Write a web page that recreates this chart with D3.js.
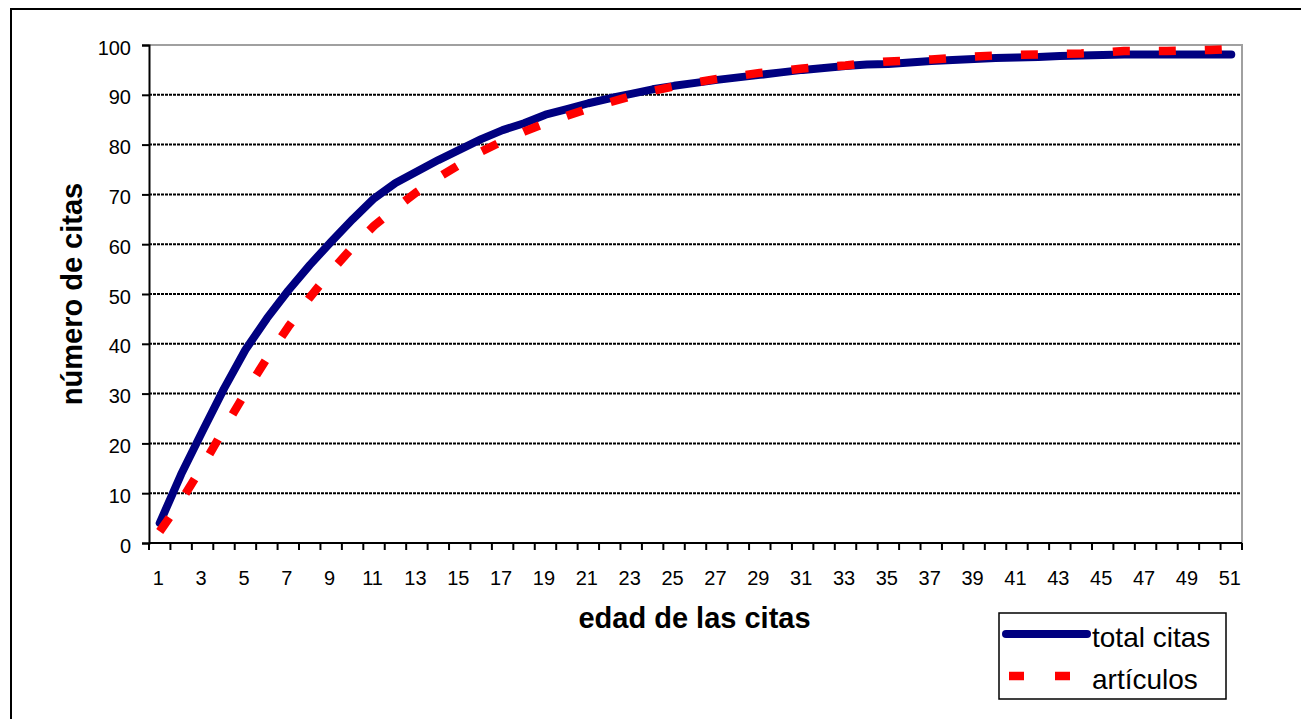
<!DOCTYPE html>
<html>
<head>
<meta charset="utf-8">
<script src="https://cdn.jsdelivr.net/npm/d3@7"></script>
<style>
  html, body { margin: 0; padding: 0; background: #fff; overflow: hidden; }
  svg { display: block; font-family: Arial, "Liberation Sans", sans-serif; }
</style>
</head>
<body>
<svg width="1301" height="719"></svg>
<script>
// edades (categorías del eje x)
const edades = [1, 2, 3, 4, 5, 6, 7, 8, 9, 10, 11, 12, 13, 14, 15, 16, 17, 18, 19, 20,
    21, 22, 23, 24, 25, 26, 27, 28, 29, 30, 31, 32, 33, 34, 35, 36, 37, 38, 39, 40,
    41, 42, 43, 44, 45, 46, 47, 48, 49, 50, 51];

const etiquetasX = [1, 3, 5, 7, 9, 11, 13, 15, 17, 19, 21, 23, 25, 27, 29, 31, 33, 35,
    37, 39, 41, 43, 45, 47, 49, 51];

const ticksY = [0, 10, 20, 30, 40, 50, 60, 70, 80, 90, 100];

// porcentaje acumulado
const totalCitas = [4.0, 13.8, 22.5, 31.0, 38.8, 45.1, 50.7, 55.8, 60.5, 65.0,
    69.2, 72.3, 74.6, 76.9, 79.0, 81.1, 82.9, 84.3, 86.0, 87.1,
    88.3, 89.3, 90.2, 91.1, 91.8, 92.4, 93.0, 93.5, 94.0, 94.5,
    95.0, 95.4, 95.8, 96.1, 96.2, 96.5, 96.8, 97.0, 97.2, 97.4,
    97.5, 97.6, 97.8, 97.9, 98.0, 98.1, 98.1, 98.1, 98.1, 98.1, 98.1];

const articulos = [2.3, 8.5, 15.4, 22.9, 30.2, 37.1, 43.4, 49.3, 54.6, 59.4,
    63.7, 67.2, 70.5, 73.4, 76.0, 78.6, 80.7, 82.6, 84.3, 85.8,
    87.2, 88.5, 89.7, 90.8, 91.7, 92.5, 93.2, 93.8, 94.4, 94.8,
    95.3, 95.6, 95.9, 96.4, 96.7, 96.9, 97.1, 97.4, 97.7, 97.9,
    98.0, 98.1, 98.2, 98.3, 98.5, 98.8, 98.8, 98.8, 98.9, 99.0, 99.2];

const series = [
    { nombre: "total citas", valores: totalCitas, color: "#000080", dash: null, cap: "round", ancho: 8 },
    { nombre: "artículos", valores: articulos, color: "#ff0000", dash: "17,29", cap: "butt", ancho: 8.5 }
];

const svg = d3.select("svg");

// marco exterior del gráfico
svg.append("rect")
    .attr("x", 11).attr("y", 9)
    .attr("width", 1400).attr("height", 800)
    .attr("fill", "#fff")
    .attr("stroke", "#000")
    .attr("stroke-width", 2);

const plot = { left: 149, top: 45, right: 1242, bottom: 543 };

const x = d3.scaleBand()
    .domain(edades)
    .range([plot.left, plot.right])
    .padding(0);

const y = d3.scaleLinear()
    .domain([0, 100])
    .range([plot.bottom, plot.top]);

// líneas de cuadrícula
svg.append("g")
    .selectAll("line")
    .data(ticksY.filter(t => t > 0 && t < 100))
    .join("line")
    .attr("x1", plot.left).attr("x2", plot.right)
    .attr("y1", d => y(d)).attr("y2", d => y(d))
    .attr("stroke", "#000")
    .attr("stroke-width", 2)
    .attr("stroke-dasharray", "3,1");

// borde del área de trazado (gris arriba y a la derecha)
svg.append("path")
    .attr("d", `M${plot.left},${plot.top}H${plot.right}V${plot.bottom}`)
    .attr("fill", "none")
    .attr("stroke", "#a0a0a0")
    .attr("stroke-width", 2);

// eje y
const ejeY = svg.append("g")
    .attr("transform", `translate(${plot.left},0)`)
    .call(d3.axisLeft(y).tickValues(ticksY).tickSize(7).tickPadding(11));

ejeY.select(".domain").attr("stroke", "#000").attr("stroke-width", 2);
ejeY.selectAll(".tick line").attr("stroke", "#000").attr("stroke-width", 2);
ejeY.selectAll(".tick text")
    .attr("font-size", 20)
    .attr("font-family", "Arial, 'Liberation Sans', sans-serif")
    .attr("fill", "#000")
    .attr("dy", "0.45em");

// eje x: marcas entre categorías
const ejeX = svg.append("g")
    .attr("transform", `translate(0,${plot.bottom})`);

ejeX.append("line")
    .attr("x1", plot.left).attr("x2", plot.right)
    .attr("stroke", "#000").attr("stroke-width", 2);

ejeX.selectAll("line.marca")
    .data(edades.concat([null]))
    .join("line")
    .attr("class", "marca")
    .attr("x1", (d, i) => plot.left + i * x.bandwidth())
    .attr("x2", (d, i) => plot.left + i * x.bandwidth())
    .attr("y1", 0).attr("y2", 7)
    .attr("stroke", "#000").attr("stroke-width", 2);

ejeX.selectAll("text")
    .data(etiquetasX)
    .join("text")
    .attr("x", d => x(d) + x.bandwidth() / 2 - 1.5)
    .attr("y", 42)
    .attr("text-anchor", "middle")
    .attr("font-size", 20)
    .text(d => d);

// líneas de datos
const linea = d3.line()
    .x((d, i) => x(edades[i]) + x.bandwidth() / 2)
    .y(d => y(d));

svg.append("g")
    .selectAll("path")
    .data(series)
    .join("path")
    .attr("d", d => linea(d.valores))
    .attr("fill", "none")
    .attr("stroke", d => d.color)
    .attr("stroke-width", d => d.ancho)
    .attr("stroke-linecap", d => d.cap)
    .attr("stroke-linejoin", "round")
    .attr("stroke-dasharray", d => d.dash);

// títulos de los ejes
svg.append("text")
    .attr("x", (plot.left + plot.right) / 2 - 1)
    .attr("y", 628)
    .attr("text-anchor", "middle")
    .attr("font-size", 29)
    .attr("font-weight", "bold")
    .text("edad de las citas");

svg.append("text")
    .attr("transform", `translate(82,${(plot.top + plot.bottom) / 2}) rotate(-90)`)
    .attr("text-anchor", "middle")
    .attr("font-size", 29)
    .attr("font-weight", "bold")
    .text("número de citas");

// leyenda
const leyenda = svg.append("g");

leyenda.append("rect")
    .attr("x", 999).attr("y", 613)
    .attr("width", 227).attr("height", 86)
    .attr("fill", "#fff")
    .attr("stroke", "#000")
    .attr("stroke-width", 1.5);

const filas = leyenda.selectAll("g.fila")
    .data(series)
    .join("g")
    .attr("class", "fila")
    .attr("transform", (d, i) => `translate(0,${634 + i * 42})`);

filas.append("line")
    .attr("x1", (d, i) => i === 0 ? 1006 : 1009)
    .attr("x2", 1087)
    .attr("stroke", d => d.color)
    .attr("stroke-width", d => d.ancho)
    .attr("stroke-linecap", d => d.cap)
    .attr("stroke-dasharray", (d, i) => i === 0 ? null : "15,31");

filas.append("text")
    .attr("x", 1092)
    .attr("y", 13)
    .attr("font-size", 28)
    .text(d => d.nombre);
</script>
</body>
</html>
